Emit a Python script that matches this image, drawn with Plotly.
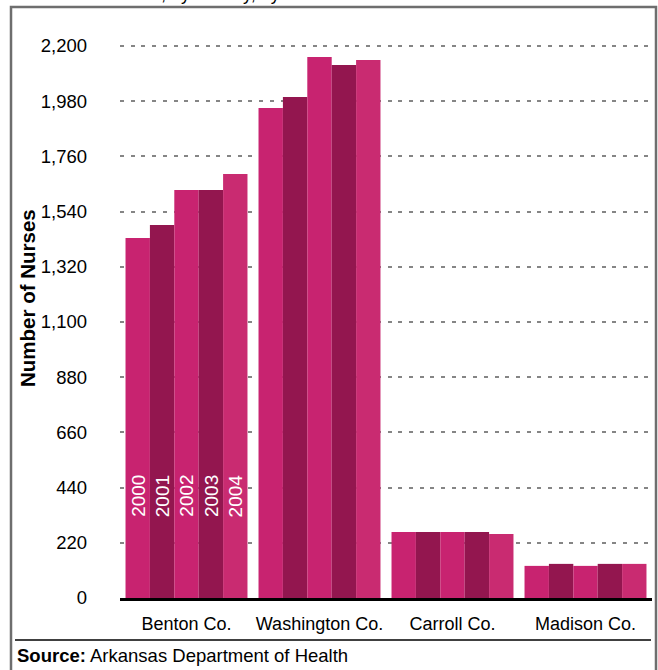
import plotly.graph_objects as go

counties = ["Benton Co.", "Washington Co.", "Carroll Co.", "Madison Co."]
years = ["2000", "2001", "2002", "2003", "2004"]
nurses_2000 = [1435, 1953, 263, 128]
nurses_2001 = [1487, 1997, 263, 136]
nurses_2002 = [1626, 2156, 263, 128]
nurses_2003 = [1626, 2124, 263, 136]
nurses_2004 = [1690, 2144, 255, 136]
series = [nurses_2000, nurses_2001, nurses_2002, nurses_2003, nurses_2004]
colors = ["#C82370", "#93164F", "#C82370", "#93164F", "#C92B71"]
ytick_vals = [0, 220, 440, 660, 880, 1100, 1320, 1540, 1760, 1980, 2200]

W, H = 658, 670
L, R, T, B = 120, 6, 42, 72
PW, PH = W - L - R, H - T - B
YMAX = 2216

def px(x):
    return (x - L) / PW

def py(y):
    return (H - B - y) / PH

FONT = "Liberation Sans, Arial, Helvetica, sans-serif"
BARGAP = 0.083

fig = go.Figure()
for yr, vals, c in zip(years, series, colors):
    fig.add_trace(go.Bar(x=counties, y=vals, name=yr, marker=dict(color=c, line=dict(width=0)),
                         showlegend=False))

# year labels inside first group
bw = (1 - BARGAP) / len(years)
for k, yr in enumerate(years):
    fig.add_annotation(x=(k - (len(years) - 1) / 2) * bw, y=406, xref="x", yref="y", text=yr,
                       textangle=-90, showarrow=False, font=dict(color="white", size=19, family=FONT))

# frame and source line
fig.add_shape(type="rect", xref="paper", yref="paper", x0=px(11), x1=px(656), y0=py(720), y1=py(7),
              line=dict(color="#6E6E6E", width=2.5), fillcolor="rgba(0,0,0,0)", layer="above")
fig.add_shape(type="line", xref="paper", yref="paper", x0=px(15), x1=px(651), y0=py(640), y1=py(640),
              line=dict(color="black", width=1.5))

fig.add_annotation(xref="paper", yref="paper", x=px(13), y=py(6), xanchor="left", yanchor="bottom",
                   text="Number of Nurses, by County, by Year", showarrow=False,
                   font=dict(size=18, color="black", family=FONT))
fig.add_annotation(xref="paper", yref="paper", x=px(15), y=py(655), xanchor="left", yanchor="middle",
                   text="<b>Source:</b> Arkansas Department of Health", showarrow=False,
                   font=dict(size=18.5, color="black", family=FONT))
fig.add_annotation(xref="paper", yref="paper", x=px(27), y=py(298), xanchor="center", yanchor="middle",
                   text="<b>Number of Nurses</b>", textangle=-90, showarrow=False,
                   font=dict(size=20.5, color="black", family=FONT))

fig.update_layout(
    width=W, height=H,
    margin=dict(l=L, r=R, t=T, b=B, pad=0),
    barmode="group", bargap=BARGAP, bargroupgap=0,
    plot_bgcolor="white", paper_bgcolor="white",
    font=dict(family=FONT, size=18, color="black"),
    xaxis=dict(showline=True, linecolor="black", linewidth=2.5, showgrid=False, ticks="",
               tickfont=dict(size=18), ticklabelstandoff=8),
    yaxis=dict(range=[0, YMAX], tickvals=ytick_vals, tickformat=",", showline=False, zeroline=False,
               showgrid=True, gridcolor="#858585", gridwidth=1.5, griddash="4px,6.7px",
               ticks="", tickfont=dict(size=18.5), ticklabelstandoff=32),
)

fig.write_html("out.html", config={"displayModeBar": False},
               post_script="document.body.style.margin='0px';")
